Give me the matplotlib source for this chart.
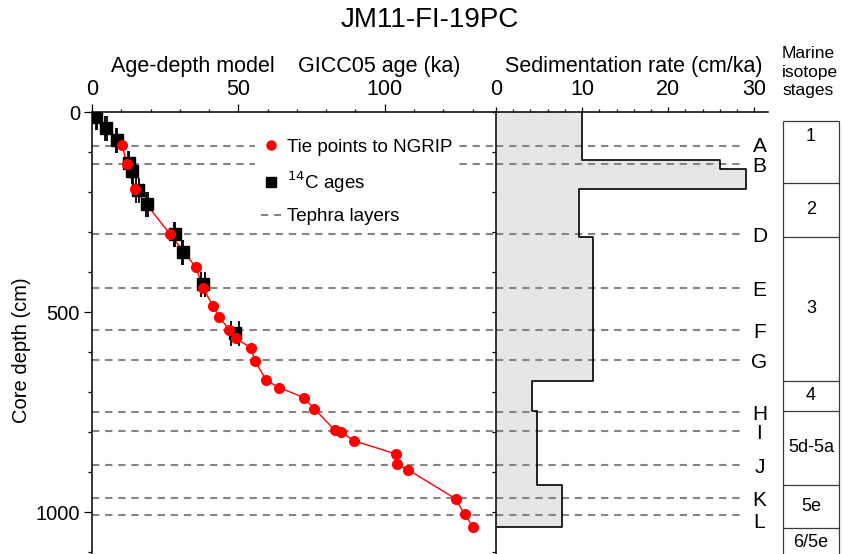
import numpy as np
import matplotlib.pyplot as plt
from matplotlib.lines import Line2D
from matplotlib.ticker import MultipleLocator

plt.rcParams['font.family'] = ['Liberation Sans', 'DejaVu Sans']

# 14C ages: age (ka), depth (cm), age error (ka)
c14_age = [1.5, 4.8, 8.4, 12.6, 13.7, 15.7, 18.8, 28.3, 31.0, 38.0, 48.8]
c14_depth = [12, 39, 69, 128, 148, 194, 230, 305, 349, 430, 553]
c14_err = [0.2, 0.2, 0.2, 0.2, 0.2, 0.5, 0.2, 0.2, 0.2, 0.7, 1.4]

# tie points to NGRIP
tie_age = [10.3, 11.9, 14.6, 26.6, 35.5, 38.0, 41.4, 43.4, 46.9, 49.1, 54.2, 55.7,
           59.4, 63.9, 72.4, 75.9, 82.9, 84.9, 89.5, 103.8, 104.1, 108.1, 124.2,
           127.3, 130.1]
tie_depth = [82, 130, 193, 305, 388, 441, 486, 513, 544, 566, 589, 622,
             670, 689, 714, 742, 795, 799, 822, 855, 881, 895, 967,
             1006, 1037]

# tephra layers
tephra_names = ['A', 'B', 'D', 'E', 'F', 'G', 'H', 'I', 'J', 'K', 'L']
tephra_depth = [85, 131, 305, 441, 545, 620, 749, 797, 882, 966, 1007]

# sedimentation rate intervals
sed_top = [0, 120, 143, 192, 312, 672, 748, 932]
sed_base = [120, 143, 192, 312, 672, 748, 932, 1038]
sed_rate = [10.0, 26.0, 29.1, 9.7, 11.3, 4.2, 4.8, 7.7]

# marine isotope stages
mis_names = ['1', '2', '3', '4', '5d-5a', '5e', '6/5e']
mis_top = [22, 177, 312, 672, 748, 932, 1040]
mis_base = [177, 312, 672, 748, 932, 1040, 1130]

W, H = 842, 554
fig = plt.figure(figsize=(W / 100, H / 100), dpi=100)

def fx(px):
    return px / W

def fy(py):
    return 1 - py / H

ytop, ybot = 112, 554
ax1 = fig.add_axes([fx(92), fy(ybot), (496 - 92) / W, (ybot - ytop) / H])
ax2 = fig.add_axes([fx(496), fy(ybot), (768 - 496) / W, (ybot - ytop) / H])
ax3 = fig.add_axes([fx(783), fy(ybot), (839 - 783) / W, (ybot - ytop) / H])

dash = (0, (3.5, 2.8))
gray = '#858585'
fs = 15.5

# ---- age-depth panel
for d in tephra_depth:
    ax1.axhline(d, color=gray, lw=1.5, ls=dash, zorder=1)
ax1.plot(tie_age, tie_depth, color='red', lw=1, zorder=2)
ax1.errorbar(c14_age, c14_depth, xerr=c14_err, fmt='s', color='black', ms=8.5,
             capsize=9, capthick=1.3, elinewidth=1.3, zorder=3)
ax1.plot(tie_age, tie_depth, 'o', color='red', ms=8, mec='none', zorder=4)

ax1.set_xlim(0, 138)
ax1.set_ylim(1105, 0)
ax1.xaxis.tick_top()
ax1.spines['right'].set_visible(False)
ax1.spines['bottom'].set_visible(False)
ax1.xaxis.set_major_locator(MultipleLocator(50))
ax1.xaxis.set_minor_locator(MultipleLocator(10))
ax1.yaxis.set_major_locator(MultipleLocator(500))
ax1.yaxis.set_minor_locator(MultipleLocator(100))
ax1.tick_params(axis='x', which='major', length=6, width=0.9, pad=2.5, labelsize=fs)
ax1.tick_params(axis='x', which='minor', length=2.2, width=0.9)
ax1.tick_params(axis='y', which='major', length=6, width=0.9, pad=2.7, labelsize=14.5)
ax1.tick_params(axis='y', which='minor', length=3.2, width=0.9)
for s in ['left', 'top']:
    ax1.spines[s].set_linewidth(1.1)

handles = [Line2D([], [], marker='o', color='red', ls='none', ms=7.5, mec='none'),
           Line2D([], [], marker='s', color='black', ls='none', ms=6.5),
           Line2D([], [], color=gray, lw=1.5, ls=dash)]
labels = ['Tie points to NGRIP', '$^{14}$C ages', 'Tephra layers']
leg = ax1.legend(handles, labels, loc='upper left', bbox_to_anchor=(fx(255), fy(133)),
                 bbox_transform=fig.transFigure, borderaxespad=0, borderpad=0.3,
                 fontsize=13.5, handlelength=1.07, handletextpad=0.32,
                 labelspacing=0.72, frameon=True, fancybox=False)
leg.get_frame().set_edgecolor('none')
leg.get_frame().set_facecolor('white')
leg.get_frame().set_alpha(1)

# ---- sedimentation rate panel
ys = np.ravel(np.column_stack([sed_top, sed_base]))
xs = np.repeat(sed_rate, 2)
ax2.fill_betweenx(ys, 0, xs, color='#e5e6e7', lw=0, zorder=1)
ax2.plot(np.r_[xs, 0], np.r_[ys, ys[-1]], color='black', lw=1.2, zorder=3)
for d in tephra_depth:
    ax2.plot([0, 28.3], [d, d], color=gray, lw=1.5, ls=dash, zorder=2)
label_off = {'A': 1, 'L': 20}
for name, d in zip(tephra_names, tephra_depth):
    ax2.text(30.6, d + label_off.get(name, 6), name, ha='center', va='center',
             fontsize=15, clip_on=False)

ax2.set_xlim(0, 31.6)
ax2.set_ylim(1105, 0)
ax2.xaxis.tick_top()
ax2.spines['right'].set_visible(False)
ax2.spines['bottom'].set_visible(False)
ax2.xaxis.set_major_locator(MultipleLocator(10))
ax2.xaxis.set_minor_locator(MultipleLocator(2))
ax2.yaxis.set_major_locator(MultipleLocator(100))
ax2.set_yticklabels([])
ax2.tick_params(axis='x', which='major', length=3.6, width=0.9, pad=4.7, labelsize=fs)
ax2.tick_params(axis='x', which='minor', length=2, width=0.9)
ax2.tick_params(axis='y', which='major', length=3.2, width=0.9)
for s in ['left', 'top']:
    ax2.spines[s].set_linewidth(1.1)

# ---- marine isotope stages column
ax3.set_xlim(0, 1)
ax3.set_ylim(1105, 0)
ax3.axis('off')
box_c = '#3a3a3a'
ax3.vlines([0, 1], mis_top[0], mis_base[-1], color=box_c, lw=0.9, clip_on=False)
ax3.hlines(mis_top, 0, 1, color=box_c, lw=0.9, clip_on=False)
for name, t, b in zip(mis_names, mis_top, mis_base):
    yc = 62 if name == '1' else (t + min(b, 1112)) / 2
    ax3.text(0.5, yc, name, ha='center', va='center', fontsize=13, clip_on=False)

# ---- texts
fig.text(fx(430), fy(20), 'JM11-FI-19PC', ha='center', va='center', fontsize=20)
fig.text(fx(193), fy(67), 'Age-depth model', ha='center', va='center', fontsize=fs)
fig.text(fx(379), fy(67), 'GICC05 age (ka)', ha='center', va='center', fontsize=fs)
fig.text(fx(634), fy(67), 'Sedimentation rate (cm/ka)', ha='center', va='center', fontsize=fs)
fig.text(fx(782), fy(72), 'Marine\nisotope\nstages', ha='left', va='center',
         fontsize=12.5, linespacing=1.25)
fig.text(fx(22), fy(350), 'Core depth (cm)', rotation=90, ha='center', va='center',
         fontsize=14.5)

fig.savefig('out.png', dpi=100)
